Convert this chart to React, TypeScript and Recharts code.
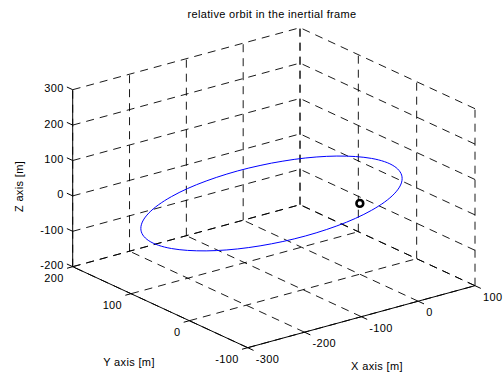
import React from 'react';
import { ScatterChart, Scatter, XAxis, YAxis } from 'recharts';

// ---------- data ----------
const chartTitle = 'relative orbit in the inertial frame';
const xLabel = 'X axis [m]';
const yLabel = 'Y axis [m]';
const zLabel = 'Z axis [m]';

const xTicks = [-300, -200, -100, 0, 100];
const yTicks = [-100, 0, 100, 200];
const zTicks = [-200, -100, 0, 100, 200, 300];

// relative orbit samples (m)
const orbitX = [-98, -131.9, -164.7, -195.5, -223.3, -247.4, -266.9, -281.2, -290.0, -293, -290.0, -281.2, -266.9, -247.4, -223.3, -195.5, -164.7, -131.9, -98, -64.1, -31.3, -0.5, 27.3, 51.4, 70.9, 85.2, 94.0, 97, 94.0, 85.2, 70.9, 51.4, 27.3, -0.5, -31.3, -64.1, -98];
const orbitY = [56, 61.9, 67.6, 73, 77.9, 82.0, 85.4, 87.9, 89.5, 90, 89.5, 87.9, 85.4, 82.0, 77.9, 73, 67.6, 61.9, 56, 50.1, 44.4, 39, 34.1, 30.0, 26.6, 24.1, 22.5, 22, 22.5, 24.1, 26.6, 30.0, 34.1, 39, 44.4, 50.1, 56];
const orbitZ = [114, 110.4, 103.4, 93.2, 80.3, 64.9, 47.5, 28.7, 9.0, -11, -30.6, -49.3, -66.5, -81.7, -94.4, -104.2, -110.9, -114.2, -114, -110.4, -103.4, -93.2, -80.3, -64.9, -47.5, -28.7, -9.0, 11, 30.6, 49.3, 66.5, 81.7, 94.4, 104.2, 110.9, 114.2, 114];

const chiefX = [0];
const chiefY = [0];
const chiefZ = [0];

// ---------- 3D view (layout) ----------
const X0 = xTicks[0], X1 = xTicks[xTicks.length - 1];
const Y0 = yTicks[0], Y1 = yTicks[yTicks.length - 1];
const Z0 = zTicks[0], Z1 = zTicks[zTicks.length - 1];
const ORIGIN = { px: 72.7, py: 266.7 }; // screen position of (X0, Y1, Z0)
const EX = { dx: 227.3, dy: -62 };
const EY = { dx: 175, dy: 81 };
const EZ = { dx: 0, dy: -177 };

function proj(x: number, y: number, z: number) {
  const u = (x - X0) / (X1 - X0);
  const v = (Y1 - y) / (Y1 - Y0);
  const w = (z - Z0) / (Z1 - Z0);
  return {
    px: ORIGIN.px + u * EX.dx + v * EY.dx + w * EZ.dx,
    py: ORIGIN.py + u * EX.dy + v * EY.dy + w * EZ.dy,
  };
}

type P3 = [number, number, number];
const seg = (a: P3, b: P3) => [proj(...a), proj(...b)];

const gridSegs: { px: number; py: number }[][] = [];
xTicks.forEach((x) => {
  gridSegs.push(seg([x, Y1, Z0], [x, Y1, Z1]));
  gridSegs.push(seg([x, Y0, Z0], [x, Y1, Z0]));
});
yTicks.forEach((y) => {
  gridSegs.push(seg([X1, y, Z0], [X1, y, Z1]));
  gridSegs.push(seg([X0, y, Z0], [X1, y, Z0]));
});
zTicks.forEach((z) => {
  gridSegs.push(seg([X0, Y1, z], [X1, Y1, z]));
  gridSegs.push(seg([X1, Y0, z], [X1, Y1, z]));
});

const TL = 10;
const axisSegs = [
  seg([X0, Y1, Z0], [X0, Y1, Z1]),
  seg([X0, Y0, Z0], [X0, Y1, Z0]),
  seg([X0, Y0, Z0], [X1, Y0, Z0]),
  ...zTicks.map((z) => seg([X0, Y1, z], [X0, Y1 + TL, z])),
  ...yTicks.map((y) => seg([X0, y, Z0], [X0 - TL, y, Z0])),
  ...xTicks.map((x) => seg([x, Y0, Z0], [x, Y0 - TL, Z0])),
];

const zLabelData = zTicks.map((z) => ({ ...proj(X0, Y1, z), label: String(z) }));
const yLabelData = yTicks.map((y) => ({ ...proj(X0, y, Z0), label: String(y) }));
const xLabelData = xTicks.map((x) => ({ ...proj(x, Y0, Z0), label: String(x) }));

const orbitData = orbitX.map((x, i) => proj(x, orbitY[i], orbitZ[i]));
const chiefData = chiefX.map((x, i) => proj(x, chiefY[i], chiefZ[i]));

const FONT = '"Liberation Sans", Arial, Helvetica, sans-serif';
const FS = 11;
const LS = 0.35;

const noShape = () => <g />;

const textShape = (dx: number, dy: number, anchor: 'start' | 'end' | 'middle') => (p: any) => (
  <text
    x={p.cx + dx}
    y={p.cy + dy}
    textAnchor={anchor}
    dominantBaseline="central"
    fontSize={FS}
    letterSpacing={LS}
    fontFamily={FONT}
    fill="#000"
  >
    {p.payload.label}
  </text>
);

const markerShape = (p: any) => (
  <circle cx={p.cx} cy={p.cy} r={3.4} fill="#fff" stroke="#000" strokeWidth={2.6} />
);

const textStyle: React.CSSProperties = {
  position: 'absolute',
  textAlign: 'center',
  fontFamily: FONT,
  fontSize: FS,
  letterSpacing: LS,
  lineHeight: '13px',
  whiteSpace: 'nowrap',
};

export default function App() {
  return (
    <div style={{ position: 'absolute', left: 0, top: 0, width: 504, height: 376, background: '#fff' }}>
      <ScatterChart width={504} height={376} margin={{ top: 0, right: 0, bottom: 0, left: 0 }}>
        <XAxis type="number" dataKey="px" domain={[0, 504]} hide allowDataOverflow />
        <YAxis type="number" dataKey="py" domain={[0, 376]} reversed hide allowDataOverflow />
        {gridSegs.map((d, i) => (
          <Scatter
            key={'g' + i}
            data={d}
            isAnimationActive={false}
            shape={noShape}
            line={{ stroke: '#000', strokeWidth: 0.9, strokeDasharray: '8 6' }}
          />
        ))}
        {axisSegs.map((d, i) => (
          <Scatter
            key={'a' + i}
            data={d}
            isAnimationActive={false}
            shape={noShape}
            line={{ stroke: '#000', strokeWidth: 1 }}
          />
        ))}
        <Scatter
          data={orbitData}
          isAnimationActive={false}
          shape={noShape}
          line={{ stroke: '#0000ff', strokeWidth: 1 }}
          lineJointType="natural"
        />
        <Scatter data={chiefData} isAnimationActive={false} shape={markerShape} />
        <Scatter data={zLabelData} isAnimationActive={false} shape={textShape(-9, -1.5, 'end')} />
        <Scatter data={yLabelData} isAnimationActive={false} shape={textShape(-9, 11.5, 'end')} />
        <Scatter data={xLabelData} isAnimationActive={false} shape={textShape(8, 11, 'start')} />
      </ScatterChart>
      <div style={{ ...textStyle, left: 172, width: 200, top: 8 }}>{chartTitle}</div>
      <div style={{ ...textStyle, left: 79, width: 100, top: 356 }}>{yLabel}</div>
      <div style={{ ...textStyle, left: 327, width: 100, top: 360 }}>{xLabel}</div>
      <div style={{ ...textStyle, left: -31, width: 100, top: 180, transform: 'rotate(-90deg)' }}>{zLabel}</div>
    </div>
  );
}
